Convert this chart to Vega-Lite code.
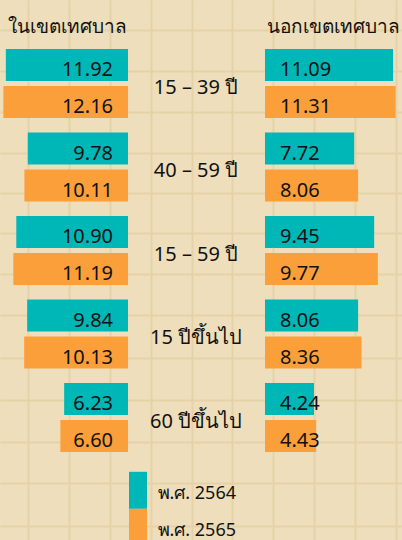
{
  "$schema": "https://vega.github.io/schema/vega-lite/v6.json",
  "width": 402,
  "height": 540,
  "autosize": {"type": "none"},
  "padding": 0,
  "background": "#EEDEBB",
  "config": {"view": {"stroke": null}, "font": "Noto Sans"},
  "data": {"values": [
    {"group": "15 – 39 ปี", "area": "in", "year": "พ.ศ. 2564", "value": 11.92},
    {"group": "15 – 39 ปี", "area": "in", "year": "พ.ศ. 2565", "value": 12.16},
    {"group": "40 – 59 ปี", "area": "in", "year": "พ.ศ. 2564", "value": 9.78},
    {"group": "40 – 59 ปี", "area": "in", "year": "พ.ศ. 2565", "value": 10.11},
    {"group": "15 – 59 ปี", "area": "in", "year": "พ.ศ. 2564", "value": 10.90},
    {"group": "15 – 59 ปี", "area": "in", "year": "พ.ศ. 2565", "value": 11.19},
    {"group": "15 ปีขึ้นไป", "area": "in", "year": "พ.ศ. 2564", "value": 9.84},
    {"group": "15 ปีขึ้นไป", "area": "in", "year": "พ.ศ. 2565", "value": 10.13},
    {"group": "60 ปีขึ้นไป", "area": "in", "year": "พ.ศ. 2564", "value": 6.23},
    {"group": "60 ปีขึ้นไป", "area": "in", "year": "พ.ศ. 2565", "value": 6.60},
    {"group": "15 – 39 ปี", "area": "out", "year": "พ.ศ. 2564", "value": 11.09},
    {"group": "15 – 39 ปี", "area": "out", "year": "พ.ศ. 2565", "value": 11.31},
    {"group": "40 – 59 ปี", "area": "out", "year": "พ.ศ. 2564", "value": 7.72},
    {"group": "40 – 59 ปี", "area": "out", "year": "พ.ศ. 2565", "value": 8.06},
    {"group": "15 – 59 ปี", "area": "out", "year": "พ.ศ. 2564", "value": 9.45},
    {"group": "15 – 59 ปี", "area": "out", "year": "พ.ศ. 2565", "value": 9.77},
    {"group": "15 ปีขึ้นไป", "area": "out", "year": "พ.ศ. 2564", "value": 8.06},
    {"group": "15 ปีขึ้นไป", "area": "out", "year": "พ.ศ. 2565", "value": 8.36},
    {"group": "60 ปีขึ้นไป", "area": "out", "year": "พ.ศ. 2564", "value": 4.24},
    {"group": "60 ปีขึ้นไป", "area": "out", "year": "พ.ศ. 2565", "value": 4.43}
  ]},
  "layer": [
    {
      "data": {"values": [{"gx": 0, "gy": 0}]},
      "mark": {"type": "point", "opacity": 0, "size": 0},
      "encoding": {
        "x": {"field": "gx", "type": "quantitative", "scale": {"domain": [0, 402], "nice": false, "zero": false},
              "axis": {"orient": "bottom", "values": [28, 69, 110, 151, 192, 232, 273, 314, 355, 396], "grid": true, "gridColor": "#E6D2A8", "gridWidth": 2, "gridOpacity": 1, "labels": false, "ticks": false, "domain": false, "title": null}},
        "y": {"field": "gy", "type": "quantitative", "scale": {"domain": [0, 540], "nice": false, "zero": false, "reverse": true},
              "axis": {"values": [30, 71, 112, 153, 193, 233, 274, 315, 358, 400, 442, 483, 526], "grid": true, "gridColor": "#E6D2A8", "gridWidth": 2, "gridOpacity": 1, "labels": false, "ticks": false, "domain": false, "title": null}}
      }
    },
    {
      "transform": [{"filter": "datum.area == 'in'"}],
      "encoding": {
        "y": {"field": "group", "type": "nominal", "sort": null, "axis": null,
              "scale": {"type": "band", "paddingInner": 0, "paddingOuter": 0.7335, "align": 0.341}},
        "yOffset": {"field": "year", "type": "nominal", "scale": {"paddingInner": 0.135, "paddingOuter": 0.196}}
      },
      "layer": [
        {
          "mark": {"type": "bar"},
          "encoding": {
            "x": {"field": "value", "type": "quantitative",
                  "scale": {"domain": [-26.73, 12.49], "reverse": true, "nice": false, "zero": false},
                  "axis": {"orient": "top", "labels": false, "ticks": false, "domain": false, "grid": false,
                           "title": "ในเขตเทศบาล", "titleX": 66.5, "titleY": 32, "titleAlign": "center", "titleBaseline": "alphabetic",
                           "titleFontSize": 19, "titleFontWeight": "normal", "titleColor": "#111111"}},
            "x2": {"datum": 0},
            "color": {"field": "year", "type": "nominal",
                      "scale": {"domain": ["พ.ศ. 2564", "พ.ศ. 2565"], "range": ["#00B7B7", "#FA9F3A"]},
                      "legend": {"orient": "none", "legendX": 119.5, "legendY": 471.8, "title": null, "padding": 0,
                                 "symbolType": "M-0.486,-1H0.486V1H-0.486Z", "symbolSize": 1369, "symbolStrokeWidth": 0,
                                 "symbolOpacity": 1, "rowPadding": 0, "labelOffset": 1, "labelFontSize": 18,
                                 "labelColor": "#111111", "labelFont": "Noto Sans",
                                 "encoding": {"labels": {"dy": {"value": 4}}}}}
          }
        },
        {
          "mark": {"type": "text", "align": "right", "baseline": "middle", "dx": -15, "dy": 5, "fontSize": 20, "color": "#111111"},
          "encoding": {
            "x": {"datum": 0, "type": "quantitative"},
            "text": {"field": "value", "type": "quantitative", "format": ".2f"}
          }
        }
      ]
    },
    {
      "transform": [{"filter": "datum.area == 'out'"}],
      "encoding": {
        "y": {"field": "group", "type": "nominal", "sort": null, "axis": null,
              "scale": {"type": "band", "paddingInner": 0, "paddingOuter": 0.7335, "align": 0.341}},
        "yOffset": {"field": "year", "type": "nominal", "scale": {"paddingInner": 0.135, "paddingOuter": 0.196}}
      },
      "layer": [
        {
          "mark": {"type": "bar"},
          "encoding": {
            "x": {"field": "value", "type": "quantitative",
                  "scale": {"domain": [-22.94, 11.86], "nice": false, "zero": false},
                  "axis": {"orient": "top", "labels": false, "ticks": false, "domain": false, "grid": false,
                           "title": "นอกเขตเทศบาล", "titleX": 333, "titleY": 32, "titleAlign": "center", "titleBaseline": "alphabetic",
                           "titleFontSize": 19, "titleFontWeight": "normal", "titleColor": "#111111"}},
            "x2": {"datum": 0},
            "color": {"field": "year", "type": "nominal"}
          }
        },
        {
          "mark": {"type": "text", "align": "left", "baseline": "middle", "dx": 15, "dy": 5, "fontSize": 20, "color": "#111111"},
          "encoding": {
            "x": {"datum": 0, "type": "quantitative"},
            "text": {"field": "value", "type": "quantitative", "format": ".2f"}
          }
        }
      ]
    },
    {
      "transform": [{"filter": "datum.area == 'in' && datum.year == 'พ.ศ. 2564'"}],
      "mark": {"type": "text", "align": "center", "baseline": "middle", "dx": 68, "dy": 4, "fontSize": 20, "color": "#111111"},
      "encoding": {
        "y": {"field": "group", "type": "nominal", "sort": null, "axis": null,
              "scale": {"type": "band", "paddingInner": 0, "paddingOuter": 0.7335, "align": 0.341}},
        "x": {"datum": 0, "type": "quantitative",
              "scale": {"domain": [-26.73, 12.49], "reverse": true, "nice": false, "zero": false}, "axis": null},
        "text": {"field": "group", "type": "nominal"}
      }
    }
  ],
  "resolve": {"scale": {"x": "independent", "y": "independent"}, "axis": {"x": "independent", "y": "independent"}}
}
